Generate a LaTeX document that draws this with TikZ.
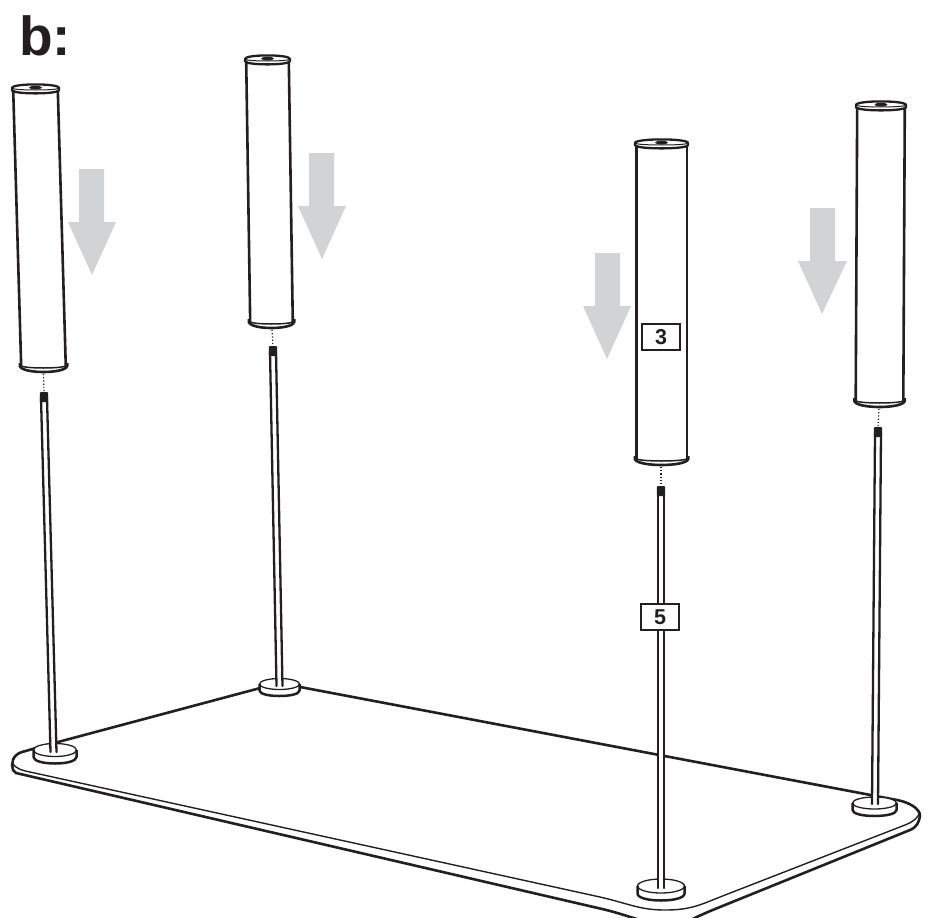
\documentclass[tikz,border=0pt]{standalone}
\usepackage{fontspec}
\setmainfont{Liberation Sans}
\definecolor{ink}{HTML}{231F20}
\definecolor{arrowgray}{HTML}{D1D3D4}
\newcommand{\hemi}[4]{(#1-#3,#2) .. controls (#1-#3,#2+1.333*#4) and (#1+#3,#2+1.333*#4) .. (#1+#3,#2)}
\newcommand{\hemiup}[4]{(#1-#3,#2) .. controls (#1-#3,#2-1.333*#4) and (#1+#3,#2-1.333*#4) .. (#1+#3,#2)}
% top x, top y, bottom x, bottom y, half width
\newcommand{\tubeleg}[5]{%
  \fill[white] (#1-#5,#2) -- (#3-#5,#4) -- (#3+#5,#4) -- (#1+#5,#2) -- cycle;
  \draw[tubeline] (#1-#5+1.2,#2+2) -- (#3-#5+1.2,#4);
  \draw[tubeline] (#1+#5-1.2,#2+2) -- (#3+#5-1.2,#4);
  \draw[rimline,line width=2.3pt] \hemiup{#1}{#2}{#5}{3.6} -- (#1+#5,#2+2) .. controls (#1+#5,#2+6.5) and (#1-#5,#2+6.5) .. (#1-#5,#2+2) -- cycle;
  \draw[rimline,line width=1pt] \hemi{#1}{#2}{#5}{2};
  \fill[ink] (#1,#2-.4) ellipse [x radius=6.5,y radius=1.8];
  \draw[rimline,line width=1.5pt] \hemi{#3}{#4-2}{#5}{3};
  \draw[rimline,line width=2.6pt] (#3-#5-.2,#4-4) -- (#3-#5-.2,#4-1) .. controls (#3-#5+2,#4+7) and (#3+#5-2,#4+7) .. (#3+#5+.2,#4-1) -- (#3+#5+.2,#4-4);
}
% top x, top y, bottom x, bottom y
\newcommand{\rodleg}[4]{%
  \fill[white] (#1-3,#2) -- (#3-3,#4) -- (#3+3,#4) -- (#1+3,#2) -- cycle;
  \draw[rodline,line cap=round] (#1-3,#2+6) -- (#3-3,#4);
  \draw[rodline,line cap=round] (#1+3,#2+6) -- (#3+3,#4);
  \fill[ink,rounded corners=1pt] (#1-4.2,#2+10) -- (#1-4.2,#2) -- (#1+4.2,#2) -- (#1+4.2,#2+10) -- cycle;
}
% centre x, top y, x radius, y radius, height
\newcommand{\puckleg}[5]{%
  \fill[white] (#1,#2) ellipse [x radius=#3,y radius=#4];
  \fill[white] (#1-#3,#2) rectangle (#1+#3,#2+#5);
  \fill[white] \hemi{#1}{#2+#5}{#3}{#4};
  \draw[rimline,line width=1.3pt] (#1,#2) ellipse [x radius=#3,y radius=#4];
  \draw[rimline,line width=2.5pt] (#1-#3,#2) -- (#1-#3,#2+#5) .. controls (#1-#3,#2+#5+1.333*#4) and (#1+#3,#2+#5+1.333*#4) .. (#1+#3,#2+#5) -- (#1+#3,#2);
}
% left shaft x, top y, right shaft x, head y, left x, right x, tip x, tip y
\newcommand{\grayarrow}[8]{%
  \fill[arrowgray] (#1,#2) -- (#3,#2) -- (#3,#4) -- (#6,#4) -- (#7,#8) -- (#5,#4) -- (#1,#4) -- cycle;
}
\tikzset{
  tubeline/.style={draw=ink,line width=2.6pt},
  rodline/.style={draw=ink,line width=2.3pt},
  rimline/.style={draw=ink,line join=round},
  edgeline/.style={draw=ink,line width=2.6pt,line join=round},
  thinedge/.style={draw=ink,line width=1.4pt,line join=round},
  gapline/.style={draw=ink,line width=1.2pt,dotted},
  partbox/.style={draw=ink,line width=2pt,fill=white,minimum width=38pt,minimum height=26pt,inner sep=0pt,font=\fontsize{21.5}{22}\selectfont\bfseries,text=ink},
  steplabel/.style={anchor=base west,inner sep=0pt,font=\fontsize{55}{55}\selectfont\bfseries,text=ink}
}
\begin{document}
\begin{tikzpicture}[x=1pt,y=-1pt]
\useasboundingbox (0,0) rectangle (929,918);
\clip (0,0) rectangle (929,918);
\fill[white] (0,0) rectangle (929,918);
\node[steplabel] (title) at (19,55) {b:};
% table top
\draw[edgeline,fill=white] (279,683) -- (58,742) .. controls (42,746) and (33,749) .. (22,752)
  .. controls (12,755) and (11,764) .. (13,770) -- (16,773)
  -- (600,908.5) .. controls (625,914) and (640,922) .. (665,925)
  -- (680,925) .. controls (695,918) and (700,915) .. (720,907) -- (910,830)
  .. controls (917,827) and (919,822) .. (920,816) .. controls (920,808) and (908,802) .. (897,800) -- cycle;
\draw[thinedge] (13,764) .. controls (16,768) and (20,770) .. (30,772) -- (600,897)
  .. controls (630,904) and (640,910) .. (665,910) .. controls (690,910) and (700,905) .. (720,897) -- (905,825)
  .. controls (913,822) and (918,818) .. (920,812);
% pucks
\puckleg{55}{750}{21.5}{6.5}{7}
\puckleg{279.5}{684}{20}{5.5}{6.5}
\puckleg{661}{886}{23.5}{7}{7.5}
\puckleg{874.5}{803}{22}{6}{7}
% gap lines
\coordinate (g1a) at (43.5,374); \coordinate (g1b) at (44,392);
\coordinate (g2a) at (272,330); \coordinate (g2b) at (273,346);
\coordinate (g3a) at (661,467); \coordinate (g3b) at (661,486);
\coordinate (g4a) at (879,409); \coordinate (g4b) at (878,427);
\draw[gapline] (g1a) -- (g1b);
\draw[gapline] (g2a) -- (g2b);
\draw[gapline] (g3a) -- (g3b);
\draw[gapline] (g4a) -- (g4b);
% rods
\rodleg{44}{392}{53.5}{752}
\rodleg{273}{346}{279.5}{686}
\rodleg{661}{486}{661}{888}
\rodleg{878}{427}{875}{804}
% tubes
\tubeleg{35.5}{88}{43.5}{367}{23.5}
\tubeleg{267.5}{59}{271.5}{323}{22.5}
\tubeleg{661.5}{143}{661.5}{460}{26.5}
\tubeleg{881}{105}{879.5}{402}{25}
% gray arrows
\grayarrow{79}{169}{104}{222}{68}{116}{92}{275}
\grayarrow{309}{153}{334}{206}{298}{346}{322}{259}
\grayarrow{595}{253}{620}{306}{583}{631}{607}{359}
\grayarrow{810}{208}{835}{261}{798}{847}{822}{314}
% part labels
\node[partbox] (p3) at (661,337) {3};
\node[partbox] (p5) at (660,617) {5};
\end{tikzpicture}
\end{document}
